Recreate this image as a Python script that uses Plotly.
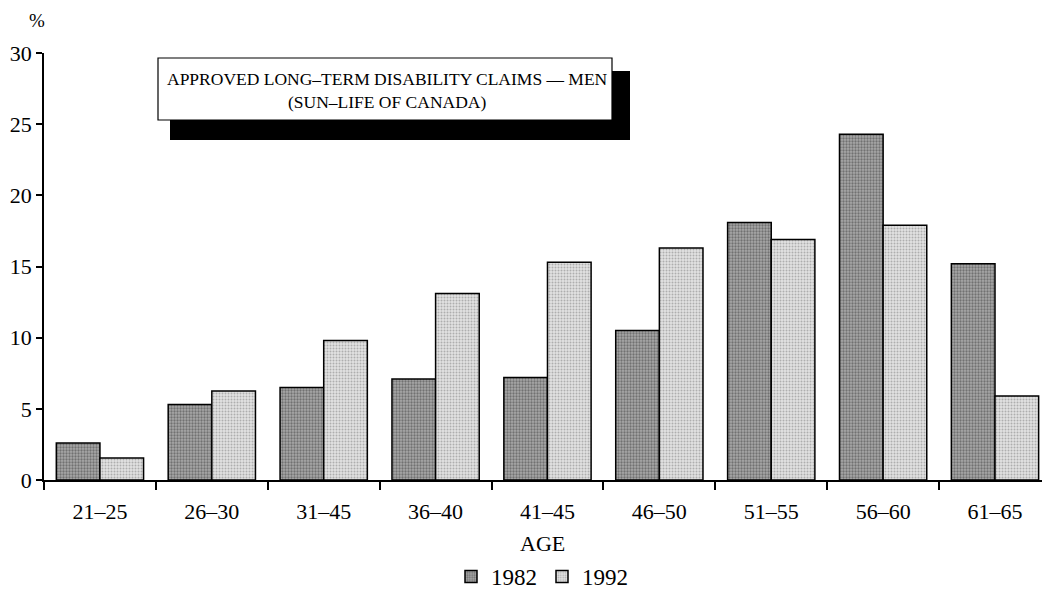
import plotly.graph_objects as go

# Age bands and share of approved long-term disability claims (%)
age_groups = ["21–25", "26–30", "31–45", "36–40", "41–45",
              "46–50", "51–55", "56–60", "61–65"]
claims_1982 = [2.6, 5.3, 6.5, 7.1, 7.2, 10.5, 18.1, 24.3, 15.2]
claims_1992 = [1.55, 6.25, 9.8, 13.1, 15.3, 16.3, 16.9, 17.9, 5.9]
y_ticks = [0, 5, 10, 15, 20, 25, 30]

FONT = "Liberation Serif"

fig = go.Figure()
fig.add_trace(go.Bar(
    x=age_groups, y=claims_1982, name="1982",
    marker=dict(color="#8c8c8c", line=dict(color="black", width=1.5),
                pattern=dict(shape=".", fgcolor="#3a3a3a", bgcolor="#a8a8a8",
                             size=3, solidity=0.45)),
))
fig.add_trace(go.Bar(
    x=age_groups, y=claims_1992, name="1992",
    marker=dict(color="#cfcfcf", line=dict(color="black", width=1.5),
                pattern=dict(shape=".", fgcolor="#7a7a7a", bgcolor="#e2e2e2",
                             size=3, solidity=0.35)),
))

fig.update_layout(
    width=1042, height=590,
    margin=dict(l=44, r=0, t=53, b=110, autoexpand=False),
    paper_bgcolor="white", plot_bgcolor="white",
    font=dict(family=FONT, size=22, color="black"),
    barmode="group", bargap=0.22, bargroupgap=0,
    showlegend=True,
    legend=dict(orientation="h", x=0.499, xanchor="center",
                y=-0.226, yanchor="middle",
                font=dict(family=FONT, size=23), itemwidth=30,
                bgcolor="rgba(0,0,0,0)"),
    xaxis=dict(
        range=[-0.5, 8.42], showgrid=False, zeroline=False,
        showline=True, linecolor="black", linewidth=1.5,
        ticks="outside", tickson="boundaries", ticklen=8,
        tickwidth=1.5, tickcolor="black",
        ticklabelstandoff=11, automargin=False,
        tickfont=dict(family=FONT, size=22),
    ),
    # overlay axes supply the inner half of the crossing tick marks
    xaxis2=dict(
        overlaying="x", anchor="y", range=[-0.5, 8.42],
        tickmode="array", tickvals=[i + 0.5 for i in range(8)],
        ticks="inside", ticklen=7, tickwidth=1.5, tickcolor="black",
        showticklabels=False, showgrid=False, zeroline=False, showline=False,
    ),
    yaxis=dict(
        range=[0, 30], tickmode="array", tickvals=y_ticks,
        showgrid=False, zeroline=False, automargin=False,
        showline=True, linecolor="black", linewidth=1.5,
        ticks="outside", ticklen=6, tickwidth=1.5, tickcolor="black",
        tickfont=dict(family=FONT, size=22),
    ),
    yaxis2=dict(
        overlaying="y", anchor="x", side="left", range=[0, 30],
        tickmode="array", tickvals=y_ticks,
        ticks="inside", ticklen=6, tickwidth=1.5, tickcolor="black",
        showticklabels=False, showgrid=False, zeroline=False, showline=False,
    ),
)

# axis titles
fig.add_annotation(text="AGE", xref="paper", yref="paper",
                   x=0.499, y=(480 - 543) / 427, xanchor="center", yanchor="middle",
                   showarrow=False, font=dict(family=FONT, size=22))
fig.add_annotation(text="%", xref="paper", yref="paper",
                   x=-0.007, y=1.077, xanchor="center", yanchor="middle",
                   showarrow=False, font=dict(family=FONT, size=19))

# title box with a solid drop shadow
def px_x(p):
    return (p - 44) / 998

def px_y(p):
    return (480 - p) / 427

fig.add_shape(type="rect", xref="paper", yref="paper",
              x0=px_x(170), x1=px_x(630), y0=px_y(140), y1=px_y(71),
              fillcolor="black", line=dict(color="black", width=0), layer="above")
fig.add_shape(type="rect", xref="paper", yref="paper",
              x0=px_x(158), x1=px_x(612), y0=px_y(120), y1=px_y(58),
              fillcolor="white", line=dict(color="black", width=1.2), layer="above")
fig.add_annotation(
    text="APPROVED LONG–TERM DISABILITY CLAIMS — MEN<br>(SUN–LIFE OF CANADA)",
    xref="paper", yref="paper", x=px_x(387), y=px_y(90),
    xanchor="center", yanchor="middle", showarrow=False, align="center",
    font=dict(family=FONT, size=17.5),
)

fig.write_html("out.html")
